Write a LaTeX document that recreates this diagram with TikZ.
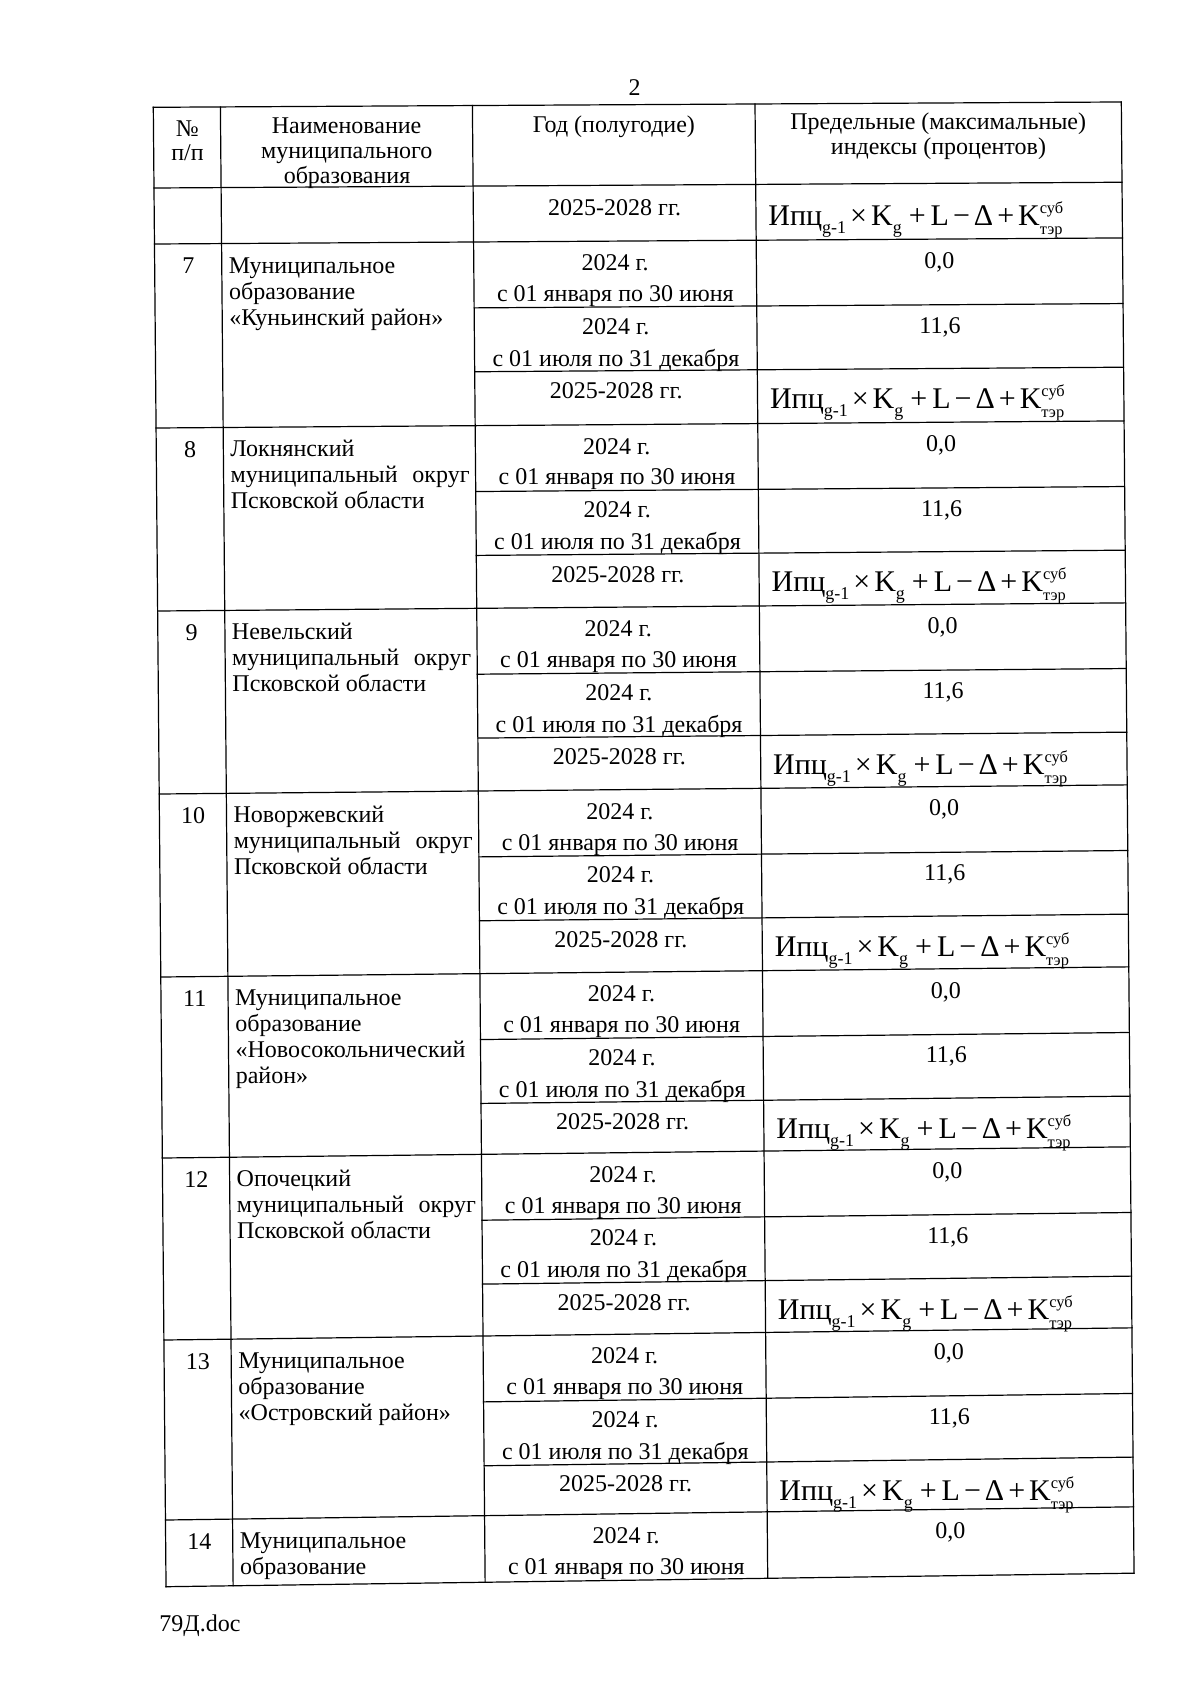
\documentclass[tikz,border=0pt]{standalone}
\usepackage{fontspec}
\setmainfont{Liberation Serif}
\makeatletter
\def\pg@parse#1,#2\pg@stop{%
  \pgfmathsetmacro\pg@u{#1}%
  \pgfmathsetmacro\pg@v{#2}%
  \pgfmathsetmacro\pg@x{\pg@u+0.0086*(\pg@v-107.3)}%
  \pgfmathsetmacro\pg@y{\pg@v-(0.0055+0.0085*(\pg@v-107.3)/1479.4)*(\pg@u-153.3)}%
  \pgfpointxy{\pg@x}{\pg@y}}
\tikzdeclarecoordinatesystem{pg}{\pg@parse#1\pg@stop}
\makeatother
\newcommand\fsb[1]{\raisebox{-4pt}{\fontsize{9}{9}\selectfont #1}}
\newcommand\fsp[2]{\rlap{\raisebox{6pt}{\fontsize{8.2}{8.2}\selectfont #1}}\raisebox{-4.5pt}{\fontsize{8.2}{8.2}\selectfont #2}}
\newcommand\frm{{\fontsize{15}{17}\selectfont Ипц\fsb{g-1}\hspace{2pt}×\hspace{2pt}K\fsb{g}\hspace{3.5pt}+\hspace{2.5pt}L\hspace{2pt}−\hspace{2pt}Δ\hspace{2pt}+\hspace{2pt}K\fsp{суб}{тэр}}}
\newcommand\jline{\makebox[119.5pt][l]{муниципальный\hfill округ}}
\tikzset{
  grid/.style={line width=0.6pt, line cap=rect},
  tx/.style={inner sep=0pt, anchor=base, font=\fontsize{12}{14}\selectfont},
  txl/.style={tx, anchor=base west},
  frm/.style={inner sep=0pt, anchor=base west}
}
\newcommand\periods[2]{%
  \node[tx] (#2a) at (pg cs:613.7,#1+29.5) {2024 г.};
  \node[tx] (#2b) at (pg cs:613.7,#1+60.5) {с 01 января по 30 июня};
  \node[tx] (#2c) at (pg cs:613.7,#1+93.5) {2024 г.};
  \node[tx] (#2d) at (pg cs:613.7,#1+125.5) {с 01 июля по 31 декабря};
  \node[tx] (#2e) at (pg cs:613.7,#1+158) {2025-2028 гг.};
  \node[tx] (#2f) at (pg cs:938,#1+29.5) {0,0};
  \node[tx] (#2g) at (pg cs:938,#1+94.5) {11,6};
  \node[frm] (#2h) at (pg cs:767,#1+169) {\frm};
}
\newcommand\names[5]{%
  \node[tx] (#1n) at (pg cs:187,#2+29.5) {#3};
  \node[txl] (#1a) at (pg cs:227,#2+29.5) {#4};
  \node[txl] (#1b) at (pg cs:227,#2+55.5) {#5};
}
\begin{document}
\begin{tikzpicture}[x=0.5pt,y=-0.5pt]
\useasboundingbox (0,0) rectangle (1200,1686);
\fill[white] (0,0) rectangle (1200,1686);
% grid
\def\tabT{107.3}\def\tabB{1586.7}
\foreach \cx in {153.3,220.4,472.4,755,1121.3}
  \draw[grid] (pg cs:\cx,\tabT) -- (pg cs:\cx,\tabB);
\foreach \rv in {107.3,188,244,428,611,794,977,1158,1340,1520,1586.7}
  \draw[grid] (pg cs:153.3,\rv) -- (pg cs:1121.3,\rv);
\foreach \gs in {244,428,611,794,977,1158,1340}{
  \draw[grid] (pg cs:472.4,\gs+66) -- (pg cs:1121.3,\gs+66);
  \draw[grid] (pg cs:472.4,\gs+130) -- (pg cs:1121.3,\gs+130);
}
% page number and footer
\node[tx] (pagenum) at (634.5,96) {2};
\node[txl] (footer) at (159,1631) {79Д.doc};
% header
\node[tx] (h1a) at (pg cs:187,136.5) {№};
\node[tx] (h1b) at (pg cs:187,160.5) {п/п};
\node[tx] (h2a) at (pg cs:346.4,134.5) {Наименование};
\node[tx] (h2b) at (pg cs:346.4,160) {муниципального};
\node[tx] (h2c) at (pg cs:346.4,185) {образования};
\node[tx] (h3a) at (pg cs:613.7,135) {Год (полугодие)};
\node[tx] (h4a) at (pg cs:938,134) {Предельные (максимальные)};
\node[tx] (h4b) at (pg cs:938,159.5) {индексы (процентов)};
% continuation row
\node[tx] (c0e) at (pg cs:613.7,188+30) {2025-2028 гг.};
\node[frm] (c0h) at (pg cs:767,188+41) {\frm};
% 7
\names{m7}{244}{7}{Муниципальное}{образование}
\node[txl] (m7c) at (pg cs:227,244+81.5) {«Куньинский район»};
\periods{244}{p7}
% 8
\names{m8}{428}{8}{Локнянский}{\jline}
\node[txl] (m8c) at (pg cs:227,428+81.5) {Псковской области};
\periods{428}{p8}
% 9
\names{m9}{611}{9}{Невельский}{\jline}
\node[txl] (m9c) at (pg cs:227,611+81.5) {Псковской области};
\periods{611}{p9}
% 10
\names{m10}{794}{10}{Новоржевский}{\jline}
\node[txl] (m10c) at (pg cs:227,794+81.5) {Псковской области};
\periods{794}{p10}
% 11
\names{m11}{977}{11}{Муниципальное}{образование}
\node[txl] (m11c) at (pg cs:227,977+81.5) {«Новосокольнический};
\node[txl] (m11d) at (pg cs:227,977+107.5) {район»};
\periods{977}{p11}
% 12
\names{m12}{1158}{12}{Опочецкий}{\jline}
\node[txl] (m12c) at (pg cs:227,1158+81.5) {Псковской области};
\periods{1158}{p12}
% 13
\names{m13}{1340}{13}{Муниципальное}{образование}
\node[txl] (m13c) at (pg cs:227,1340+81.5) {«Островский район»};
\periods{1340}{p13}
% 14
\names{m14}{1520}{14}{Муниципальное}{образование}
\node[tx] (p14a) at (pg cs:613.7,1520+29.5) {2024 г.};
\node[tx] (p14b) at (pg cs:613.7,1520+60.5) {с 01 января по 30 июня};
\node[tx] (p14f) at (pg cs:938,1520+29.5) {0,0};
\end{tikzpicture}
\end{document}
